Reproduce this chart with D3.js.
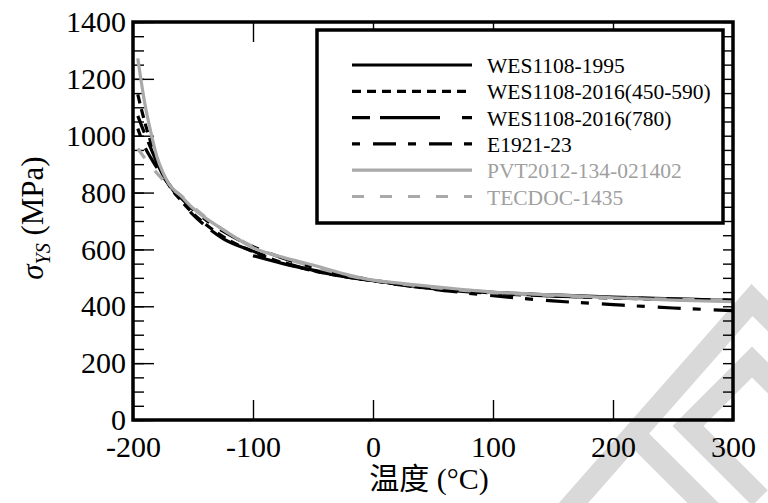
<!DOCTYPE html>
<html><head><meta charset="utf-8">
<script src="https://cdn.jsdelivr.net/npm/d3@7"></script>
<style>body{margin:0;background:#fff} svg{display:block} text{font-family:'Liberation Serif','Times New Roman',serif}</style>
</head><body><svg id="c" width="768" height="503"></svg>
<script>
// ---- data ----
const temps      = [-196,-190,-185,-180,-175,-170,-160,-150,-140,-125,-100,-75,-50,-25,0,25,50,75,100,150,200,250,300];
const wes1995    = [null,null,null,null,null,null,null,null,null,null,578,550,527,507,490,476,465,456,449,440,432,426,421];
const wes2016a   = [1145,1045,975,915,865,826,772,727,690,645,592,553,525,505,490,475,463,454,447,437,429,424,420];
const wes2016b   = [1070,1005,955,905,862,830,770,722,684,638,594,555,526,505,490,474,462,452,445,436,430,425,422];
const e1921      = [1025,959,921,887,856,828,781,740,706,664,610,569,537,512,492,475,460,448,437,419,406,394,385];
const pvt2012    = [1272,1110,1010,925,870,830,788,745,712,670,606,572,545,515,492,480,469,459,450,440,430,422,416];
const tecdoc     = [955,920,895,868,845,822,790,750,715,670,610,570,540,512,492,478,466,456,448,438,430,425,422];
const seriesNames = ["WES1108-1995","WES1108-2016(450-590)","WES1108-2016(780)","E1921-23","PVT2012-134-021402","TECDOC-1435"];
const seriesValues = [wes1995, wes2016a, wes2016b, e1921, pvt2012, tecdoc];
const seriesColors = ["#000","#000","#000","#000","#a9a9a9","#a9a9a9"];
const seriesDash   = [null,"9,6","18,10,60,22","8,13,23,12",null,"12,16"];
const xTicks = [-200,-100,0,100,200,300];
const yTicks = [0,200,400,600,800,1000,1200,1400];
const yMinor = d3.range(0,1401,50);

const svg = d3.select("#c");
const x = d3.scaleLinear().domain([-200,300]).range([133,733]);
const y = d3.scaleLinear().domain([0,1400]).range([420,22]);
const serif = "'Liberation Serif','Times New Roman',serif";
const fmt = d => String(d);

// watermark
const wm = svg.append("g").attr("fill","none").attr("stroke","#d9d9d9").attr("stroke-width",22);
wm.append("path").attr("d","M548,532 L752,300 L800,348");
wm.append("path").attr("d","M800,410 L752,362 L688,426 L760,498");
wm.append("path").attr("d","M640,440 L720,520");

// axes
const tickStyle = g => { g.attr("font-family",serif); g.selectAll(".tick line").attr("stroke","#000").attr("stroke-width",1.4); g.select(".domain").remove(); };
const labelStyle = g => g.selectAll("text").attr("font-family",serif).style("font-family",serif).attr("font-size",30).attr("fill","#000");
svg.append("g").attr("transform","translate(0,420)")
  .call(d3.axisBottom(x).tickValues(xTicks).tickSizeInner(-20).tickSizeOuter(0).tickPadding(16).tickFormat(fmt))
  .call(tickStyle).call(labelStyle);
svg.append("g").attr("transform","translate(0,22)")
  .call(d3.axisTop(x).tickValues([-100,0,100,200]).tickSizeInner(-20).tickSizeOuter(0).tickFormat(""))
  .call(tickStyle);
svg.append("g").attr("transform","translate(133,0)")
  .call(d3.axisLeft(y).tickValues(yMinor).tickSizeInner(-11).tickSizeOuter(0).tickFormat(""))
  .call(tickStyle);
svg.append("g").attr("transform","translate(133,0)")
  .call(d3.axisLeft(y).tickValues(yTicks).tickSizeInner(-21).tickSizeOuter(0).tickPadding(7).tickFormat(fmt))
  .call(tickStyle).call(labelStyle);
svg.append("g").attr("transform","translate(733,0)")
  .call(d3.axisRight(y).tickValues(yMinor).tickSizeInner(-10).tickSizeOuter(0).tickFormat(""))
  .call(tickStyle);

// series
const line = d3.line().defined(d=>d[1]!=null).x(d=>x(d[0])).y(d=>y(d[1])).curve(d3.curveMonotoneX);
seriesValues.forEach((vals,i)=>{
  svg.append("path").datum(temps.map((t,j)=>[t,vals[j]]))
    .attr("d",line).attr("fill","none").attr("stroke",seriesColors[i])
    .attr("stroke-width",3.2).attr("stroke-dasharray",seriesDash[i]);
});

// frame
svg.append("rect").attr("x",133).attr("y",22).attr("width",600).attr("height",398)
  .attr("fill","none").attr("stroke","#000").attr("stroke-width",3.5);

// legend
const lg = svg.append("g");
lg.append("rect").attr("x",317).attr("y",30).attr("width",406).attr("height",193)
  .attr("fill","#fff").attr("stroke","#000").attr("stroke-width",3.5);
seriesNames.forEach((n,i)=>{
  const yy = 65 + i*26.3;
  lg.append("line").attr("x1",352).attr("x2",472).attr("y1",yy).attr("y2",yy)
    .attr("stroke",seriesColors[i]).attr("stroke-width",3.2).attr("stroke-dasharray",seriesDash[i]);
  lg.append("text").attr("x",487).attr("y",yy+8).text(n)
    .attr("font-family",serif).attr("font-size",21.5).attr("fill",i<4?"#000":"#a0a0a0");
});

// axis titles
svg.append("text").attr("x",429).attr("y",489).attr("text-anchor","middle")
  .attr("font-family","'Liberation Serif','Noto Sans CJK SC',serif")
  .style("font-family","'Liberation Serif','Noto Sans CJK SC',serif").attr("font-size",30).text("温度 (°C)");
const yl = svg.append("text").attr("transform","translate(43,218) rotate(-90)").attr("text-anchor","middle")
  .attr("font-family",serif).attr("font-size",31);
yl.append("tspan").attr("font-style","italic").text("σ");
yl.append("tspan").attr("font-style","italic").attr("font-size",20).attr("dy",7).text("YS");
yl.append("tspan").attr("dy",-7).text(" (MPa)");
</script></body></html>
